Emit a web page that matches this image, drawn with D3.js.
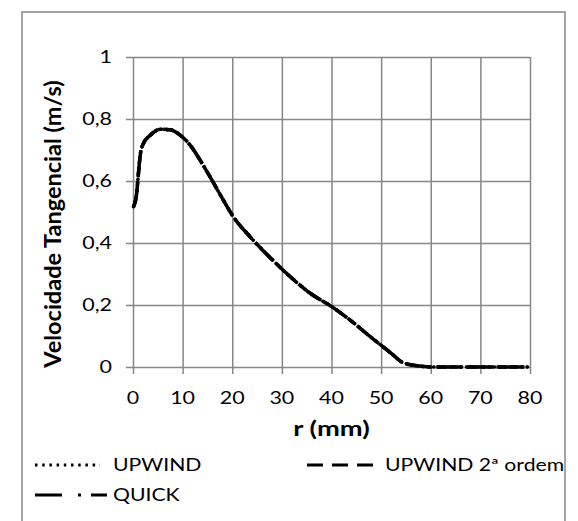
<!DOCTYPE html>
<html><head><meta charset="utf-8">
<script src="https://cdn.jsdelivr.net/npm/d3@7/dist/d3.min.js"></script>
<style>
html,body{margin:0;padding:0;background:#fff;}
svg{display:block;font-family:Lato,"Open Sans",sans-serif;}
</style></head>
<body>
<svg id="chart" width="578" height="521"></svg>
<script>
// ---- data ----
const radius = [0.1, 0.7, 1.1, 1.5, 2.1, 3.5, 5.5, 7.5, 9.5, 11.5, 13.5, 15.5, 17.6, 20.2, 23.6, 27.5, 31.7, 35.7, 40.2, 43.7, 47.8, 50.4, 52.4, 54.4, 57.8, 60.5, 65, 70, 75, 79.5];
const upwind   = [0.517, 0.555, 0.625, 0.689, 0.721, 0.748, 0.767, 0.765, 0.748, 0.716, 0.668, 0.614, 0.555, 0.485, 0.42, 0.355, 0.291, 0.238, 0.193, 0.152, 0.098, 0.065, 0.039, 0.014, 0.003, 0.0, 0.0, 0.0, 0.0, 0.0];
const upwind2  = [0.517, 0.555, 0.625, 0.689, 0.721, 0.748, 0.767, 0.765, 0.748, 0.716, 0.668, 0.614, 0.555, 0.485, 0.42, 0.355, 0.291, 0.238, 0.193, 0.152, 0.098, 0.065, 0.039, 0.014, 0.003, 0.0, 0.0, 0.0, 0.0, 0.0];
const quick    = [0.517, 0.555, 0.625, 0.689, 0.721, 0.748, 0.767, 0.765, 0.748, 0.716, 0.668, 0.614, 0.555, 0.485, 0.42, 0.355, 0.291, 0.238, 0.193, 0.152, 0.098, 0.065, 0.039, 0.014, 0.003, 0.0, 0.0, 0.0, 0.0, 0.0];
const xTicks = [0, 10, 20, 30, 40, 50, 60, 70, 80];
const yTicks = [0, 0.2, 0.4, 0.6, 0.8, 1];
const yTickLabels = ["0", "0,2", "0,4", "0,6", "0,8", "1"];
const seriesNames = ["UPWIND", "UPWIND 2ª ordem", "QUICK"];
const xTitle = "r (mm)";
const yTitle = "Velocidade Tangencial (m/s)";

// ---- layout ----
const svg = d3.select("#chart");
const P = {left: 133, right: 530, top: 57, bottom: 367};
const x = d3.scaleLinear().domain([0, 80]).range([P.left, P.right]);
const y = d3.scaleLinear().domain([0, 1]).range([P.bottom, P.top]);
const gridColor = "#878787";
const SX = 1.3; // horizontal stretch of the original picture's text

function stext(px, py, str, size, anchor, weight) {
  return svg.append("text")
    .attr("transform", `translate(${px},${py}) scale(${SX},1)`)
    .attr("dy", "0.35em").attr("text-anchor", anchor)
    .attr("font-size", size).attr("font-weight", weight || "normal")
    .attr("fill", "#000").text(str);
}

// outer frame
svg.append("rect").attr("x", 22).attr("y", 12).attr("width", 543).attr("height", 540)
  .attr("fill", "none").attr("stroke", gridColor).attr("stroke-width", 1.5);

// grid via axes
const xAxis = d3.axisBottom(x).tickValues(xTicks).tickSize(-(P.bottom - P.top)).tickFormat("");
const gx = svg.append("g").attr("transform", `translate(0,${P.bottom})`).call(xAxis);
gx.select(".domain").remove();
gx.selectAll(".tick line").attr("stroke", gridColor).attr("stroke-width", 1.5)
  .attr("y1", -(P.bottom - P.top)).attr("y2", 7);

const yAxis = d3.axisLeft(y).tickValues(yTicks).tickSize(-(P.right - P.left)).tickFormat("");
const gy = svg.append("g").attr("transform", `translate(${P.left},0)`).call(yAxis);
gy.select(".domain").remove();
gy.selectAll(".tick line").attr("stroke", gridColor).attr("stroke-width", 1.5).attr("x1", -7);

// tick labels
xTicks.forEach(d => stext(x(d), P.bottom + 31, String(d), 16.5, "middle"));
yTicks.forEach((d, i) => stext(P.left - 21, y(d), yTickLabels[i], 16.5, "end"));

// series
const line = d3.line().x((d, i) => x(radius[i])).y(d => y(d)).curve(d3.curveMonotoneX);
const styles = [
  {data: upwind,  dash: "0.5,5",     w: 3.5, cap: "round"},
  {data: upwind2, dash: "10,5",      w: 3.5, cap: "butt"},
  {data: quick,   dash: "18,5,3,5",  w: 3.5, cap: "butt"}
];
styles.forEach(s => {
  svg.append("path").attr("d", line(s.data)).attr("fill", "none").attr("stroke", "#000")
    .attr("stroke-width", s.w).attr("stroke-dasharray", s.dash).attr("stroke-linecap", s.cap);
});

// titles
stext((P.left + P.right) / 2, 429, xTitle, 21, "middle", "bold");
svg.append("text").attr("transform", `translate(61,224) rotate(-90)`)
  .attr("text-anchor", "middle").attr("font-weight", "bold")
  .attr("font-size", 23.5).text(yTitle);

// legend
const leg = [
  {x: 35, y: 465, w: 65, dash: "2.5,4.7", cap: "butt", tx: 113},
  {x: 307, y: 465, w: 67, dash: "16,9", cap: "butt", tx: 385},
  {x: 35, y: 495, w: 72, dash: "27,16,3,10,16", cap: "butt", tx: 113}
];
leg.forEach((l, i) => {
  svg.append("line").attr("x1", l.x).attr("x2", l.x + l.w).attr("y1", l.y).attr("y2", l.y)
    .attr("stroke", "#000").attr("stroke-width", 3).attr("stroke-dasharray", l.dash).attr("stroke-linecap", l.cap);
  stext(l.tx, l.y, seriesNames[i], 16.3, "start");
});
</script>
</body></html>
